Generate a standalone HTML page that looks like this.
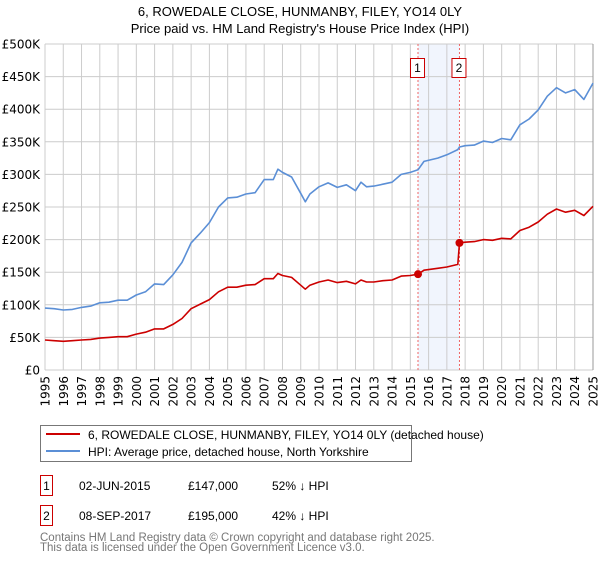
<!DOCTYPE html>
<html><head><meta charset="utf-8"><style>
body{margin:0;background:#fff;font-family:"Liberation Sans","DejaVu Sans",sans-serif;}
svg text{font-family:"Liberation Sans","DejaVu Sans",sans-serif;}
svg text.ax{font-family:"DejaVu Sans","Liberation Sans",sans-serif;}
</style></head><body>
<svg id="chart" width="600" height="560" viewBox="0 0 600 560">
<text x="300" y="16" text-anchor="middle" font-size="13">6, ROWEDALE CLOSE, HUNMANBY, FILEY, YO14 0LY</text>
<text x="300" y="33" text-anchor="middle" font-size="13">Price paid vs. HM Land Registry's House Price Index (HPI)</text>
<g id="grid"></g><g id="marks"></g><g id="axes"></g>
<g>
<rect x="40.5" y="425.5" width="371" height="36" fill="#fff" stroke="#777"/>
<line x1="46" y1="434" x2="80" y2="434" stroke="#cc0000" stroke-width="2"/>
<text x="88" y="439" font-size="12">6, ROWEDALE CLOSE, HUNMANBY, FILEY, YO14 0LY (detached house)</text>
<line x1="46" y1="451" x2="80" y2="451" stroke="#5b8fd6" stroke-width="2"/>
<text x="88" y="456" font-size="12">HPI: Average price, detached house, North Yorkshire</text>
</g>
<g font-size="12">
<rect x="40.5" y="475.5" width="12" height="20" fill="#fff" stroke="#cc0000"/>
<text x="46.5" y="490" text-anchor="middle">1</text>
<text x="79" y="490">02-JUN-2015</text><text x="188" y="490">£147,000</text><text x="272" y="490">52% ↓ HPI</text>
<rect x="40.5" y="505.5" width="12" height="20" fill="#fff" stroke="#cc0000"/>
<text x="46.5" y="520" text-anchor="middle">2</text>
<text x="79" y="520">08-SEP-2017</text><text x="188" y="520">£195,000</text><text x="272" y="520">42% ↓ HPI</text>
</g>
<text x="40" y="541" font-size="11.5" fill="#777">Contains HM Land Registry data © Crown copyright and database right 2025.</text>
<text x="40" y="551" font-size="11.5" fill="#777">This data is licensed under the Open Government Licence v3.0.</text>
</svg>
<script>
const dates=[1995,1995.5,1996,1996.5,1997,1997.5,1998,1998.5,1999,1999.5,2000,2000.5,2001,2001.5,2002,2002.5,2003,2003.5,2004,2004.5,2005,2005.5,2006,2006.5,2007,2007.5,2007.75,2008,2008.5,2009,2009.25,2009.5,2010,2010.5,2011,2011.5,2012,2012.3,2012.6,2013,2013.5,2014,2014.5,2015,2015.42,2015.75,2016.5,2017,2017.6,2017.69,2018,2018.5,2019,2019.5,2020,2020.5,2021,2021.5,2022,2022.5,2023,2023.5,2024,2024.5,2025];
const hpi=[95,94,92,93,96,98,103,104,107,107,115,120,132,131,146,165,195,210,226,250,264,265,270,272,292,292,308,303,296,271,258,270,281,287,280,284,275,288,281,282,285,288,300,303,307,320,325,330,338,342,344,345,351,349,355,353,376,385,399,420,433,425,430,415,440];
const paid=[46,45,44,45,46,47,49,50,51,51,55,58,63,63,70,79,94,101,108,120,127,127,130,131,140,140,148,145,142,130,124,130,135,138,134,136,132,138,135,135,137,138,144,145,147,153,156,158,162,195,196,197,200,199,202,201,214,219,227,239,247,242,245,237,251];
const sales=[2015.42,2017.69];
const salePrices=[147,195];
const saleLabels=["1","2"];
const yTicks=[0,50,100,150,200,250,300,350,400,450,500];
const yTickLabels=["£0","£50K","£100K","£150K","£200K","£250K","£300K","£350K","£400K","£450K","£500K"];
const xYears=[1995,1996,1997,1998,1999,2000,2001,2002,2003,2004,2005,2006,2007,2008,2009,2010,2011,2012,2013,2014,2015,2016,2017,2018,2019,2020,2021,2022,2023,2024,2025];
const X0=45,X1=593,Y0=370,Y1=44;
const sx=v=>X0+(v-1995)/30*(X1-X0);
const sy=v=>Y0-v/500*(Y0-Y1);
const NS="http://www.w3.org/2000/svg";
function mk(p,t,a){const e=document.createElementNS(NS,t);for(const k in a)e.setAttribute(k,a[k]);p.appendChild(e);return e;}
const grid=document.getElementById('grid'),marks=document.getElementById('marks'),axes=document.getElementById('axes');
const band=mk(grid,'rect',{x:sx(sales[0]),y:Y1,width:sx(sales[1])-sx(sales[0]),height:Y0-Y1,fill:'#eef3fc',opacity:0.8});


yTicks.forEach((t,i)=>{
 const l=mk(grid,'line',{x1:X0,x2:X1,y1:sy(t),y2:sy(t),stroke:'#cccccc'});
 
 
 const tx=mk(axes,'text',{x:40,y:sy(t)+4.5,'text-anchor':'end','font-size':12,'class':'ax'});
 tx.textContent=yTickLabels[i];
 
 
});
xYears.forEach(yr=>{
 const l=mk(grid,'line',{x1:sx(yr),x2:sx(yr),y1:Y1,y2:Y0,stroke:yr===2025?'#999':'#cccccc'});
 
 
 const x=sx(yr)+4.5,y=376;
 const tx=mk(axes,'text',{x:x,y:y,'text-anchor':'end','font-size':12,'class':'ax',transform:`rotate(-90 ${x} ${y})`});
 tx.textContent=String(yr);
 
 
});
sales.forEach((d,i)=>{
 const l=mk(marks,'line',{x1:sx(d),x2:sx(d),y1:Y1,y2:Y0,stroke:'#ee6666','stroke-dasharray':'2,2'});
 
 
});
function path(vals,color,name){
 const p=mk(marks,'path',{d:vals.map((v,i)=>(i?'L':'M')+sx(dates[i]).toFixed(1)+','+sy(v).toFixed(1)).join(''),fill:'none',stroke:color,'stroke-width':1.6,'stroke-linejoin':'round'});
 
 
}
path(hpi,'#5b8fd6','hpi-line');
path(paid,'#cc0000','price-paid-line');
sales.forEach((d,i)=>{
 const c=mk(marks,'circle',{cx:sx(d),cy:sy(salePrices[i]),r:4,fill:'#cc0000'});
 
 
 const r=mk(marks,'rect',{x:sx(d)-7.5,y:58.5,width:14,height:19,fill:'#fff',stroke:'#cc0000'});
 
 
 const t=mk(marks,'text',{x:sx(d)-0.5,y:72,'text-anchor':'middle','font-size':12});
 t.textContent=saleLabels[i];
 
 
});
</script>
</body></html>
